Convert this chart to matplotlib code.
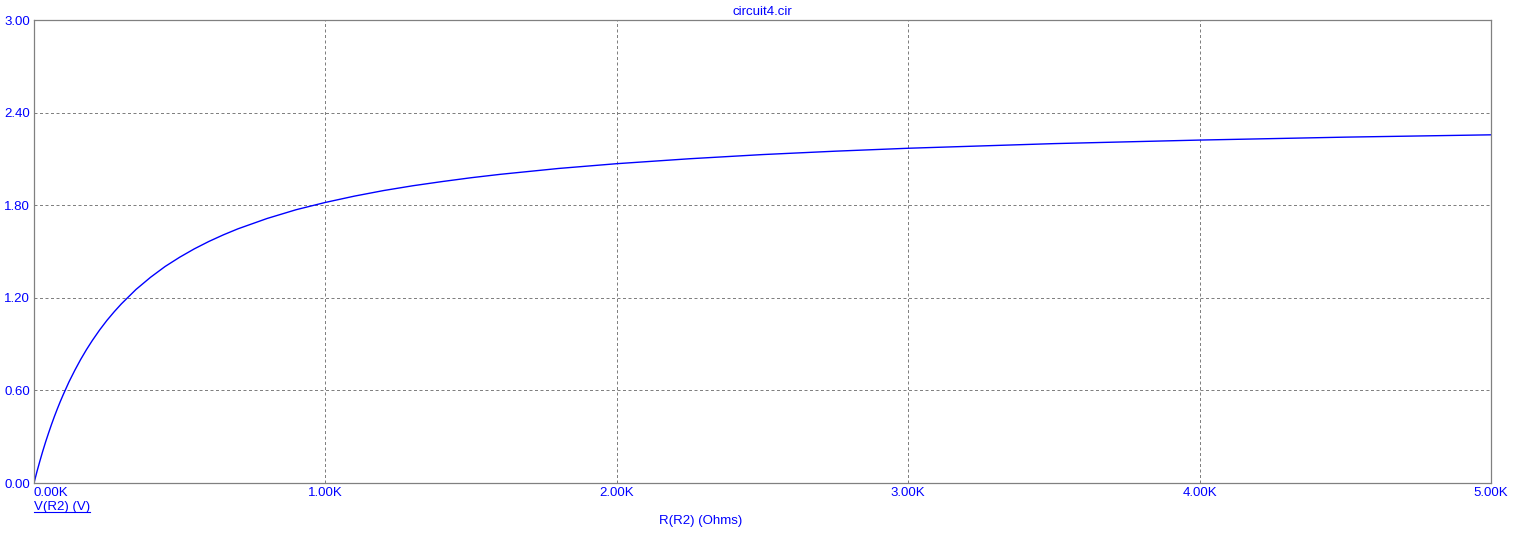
import numpy as np
import matplotlib
matplotlib.use("Agg")
import matplotlib.pyplot as plt
from matplotlib.lines import Line2D

plt.rcParams['font.family'] = ['Liberation Sans', 'DejaVu Sans']

# values
r_ohms = [0, 10, 20, 30, 40, 50, 60, 70, 80, 90, 100, 120, 140, 160, 180, 200,
          225, 250, 275, 300, 350, 400, 450, 500, 550, 600, 650, 700, 800, 900,
          1000, 1100, 1200, 1300, 1400, 1500, 1600, 1800, 2000, 2250, 2500, 2750,
          3000, 3500, 4000, 4500, 5000]
v_r2 = [0.0, 0.073, 0.141, 0.206, 0.267, 0.324, 0.379, 0.431, 0.480, 0.527, 0.571,
        0.655, 0.730, 0.800, 0.864, 0.923, 0.991, 1.053, 1.109, 1.161, 1.254, 1.333,
        1.403, 1.463, 1.517, 1.565, 1.608, 1.647, 1.714, 1.771, 1.818, 1.859, 1.895,
        1.926, 1.953, 1.978, 2.000, 2.038, 2.069, 2.101, 2.128, 2.150, 2.169, 2.199,
        2.222, 2.241, 2.256]
x_ticks = [0, 1000, 2000, 3000, 4000, 5000]
y_ticks = [0.0, 0.6, 1.2, 1.8, 2.4, 3.0]

blue = '#0000ff'
gray = '#808080'
W, H = 1523, 542

fig = plt.figure(figsize=(W / 100, H / 100), dpi=100)
ax = fig.add_axes([34 / W, 1 - 483 / H, (1491 - 34) / W, (483 - 20) / H])

ax.plot(r_ohms, v_r2, color=blue, lw=1.0)

ax.set_xlim(0, 5000)
ax.set_ylim(0, 3)
ax.set_xticks(x_ticks)
ax.set_yticks(y_ticks)
ax.set_xticklabels(['%.2fK' % (t / 1000) for t in x_ticks])
ax.set_yticklabels(['%.2f' % t for t in y_ticks])
ax.tick_params(length=0, pad=3, labelsize=9.5, labelcolor=blue)
ax.get_xticklabels()[0].set_horizontalalignment('left')

for s in ax.spines.values():
    s.set_color(gray)
    s.set_linewidth(0.9)

ax.grid(True, color=gray, lw=0.72, linestyle=(0, (3, 2.5)))

fig.text(762 / W, 1 - 12 / H, 'circuit4.cir', color=blue, fontsize=9.5,
         ha='center', va='center')
fig.text(701 / W, 1 - 521 / H, 'R(R2) (Ohms)', color=blue, fontsize=9.5,
         ha='center', va='center')
vlab = fig.text(34 / W, 1 - 507 / H, 'V(R2) (V)', color=blue, fontsize=9.5,
                ha='left', va='center')

# underline the trace name
fig.canvas.draw()
bb = vlab.get_window_extent().transformed(fig.transFigure.inverted())
fig.add_artist(Line2D([bb.x0, bb.x1], [bb.y0 + 0.002, bb.y0 + 0.002],
                      color=blue, lw=0.8, transform=fig.transFigure))

fig.savefig('out.png', dpi=100)
